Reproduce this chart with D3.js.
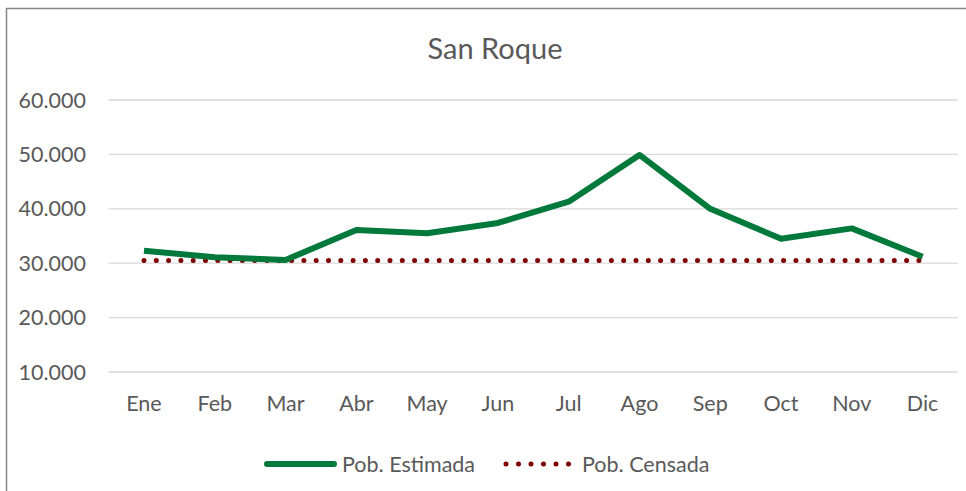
<!DOCTYPE html>
<html>
<head>
<meta charset="utf-8">
<script src="https://d3js.org/d3.v7.min.js"></script>
<style>
  body { margin: 0; background: #fff; }
  text { font-family: Lato, "Open Sans", sans-serif; fill: #595959; }
</style>
</head>
<body>
<svg id="chart" width="966" height="491"></svg>
<script>
// Data
const months = ["Ene", "Feb", "Mar", "Abr", "May", "Jun", "Jul", "Ago", "Sep", "Oct", "Nov", "Dic"];
const estimada = [32300, 31100, 30600, 36100, 35500, 37400, 41300, 49900, 40000, 34500, 36400, 31200];
const censada = [30500, 30500, 30500, 30500, 30500, 30500, 30500, 30500, 30500, 30500, 30500, 30500];
const yTicks = [10000, 20000, 30000, 40000, 50000, 60000];

const svg = d3.select("#chart");
const width = 966, height = 491;
const margin = { top: 100, right: 8, bottom: 119, left: 108.6 };
const labelSize = "21.5px";

// chart frame (only top + left edges show in the crop)
svg.append("path")
    .attr("d", `M6.5,${height} V8.5 H${width}`)
    .attr("fill", "none")
    .attr("stroke", "#868686")
    .attr("stroke-width", 1.5);

const x = d3.scaleBand()
    .domain(months)
    .range([margin.left, width - margin.right]);

const y = d3.scaleLinear()
    .domain([10000, 60000])
    .range([height - margin.bottom, margin.top]);

const fmt = v => d3.format(",")(v).replace(/,/g, ".");

// gridlines
svg.append("g")
    .selectAll("line")
    .data(yTicks)
    .join("line")
        .attr("x1", margin.left)
        .attr("x2", width - margin.right)
        .attr("y1", d => y(d))
        .attr("y2", d => y(d))
        .attr("stroke", "#d9d9d9")
        .attr("stroke-width", 1.3);

// y labels
svg.append("g")
    .selectAll("text")
    .data(yTicks)
    .join("text")
        .text(d => fmt(d))
        .attr("x", 86)
        .attr("y", d => y(d))
        .attr("text-anchor", "end")
        .attr("dy", "0.35em")
        .style("font-size", labelSize);

// x labels
svg.append("g")
    .selectAll("text")
    .data(months)
    .join("text")
        .text(d => d)
        .attr("x", d => x(d) + x.bandwidth() / 2)
        .attr("y", 411)
        .attr("text-anchor", "middle")
        .style("font-size", labelSize);

// title
svg.append("text")
    .text("San Roque")
    .attr("x", 495)
    .attr("y", 59)
    .attr("text-anchor", "middle")
    .style("font-size", "29px");

const line = d3.line()
    .x((d, i) => x(months[i]) + x.bandwidth() / 2)
    .y(d => y(d));

svg.append("path")
    .datum(censada)
    .attr("d", line)
    .attr("fill", "none")
    .attr("stroke", "#7f0000")
    .attr("stroke-width", 5)
    .attr("stroke-linecap", "round")
    .attr("stroke-dasharray", "0 12.3");

svg.append("path")
    .datum(estimada)
    .attr("d", line)
    .attr("fill", "none")
    .attr("stroke", "#00793a")
    .attr("stroke-width", 6)
    .attr("stroke-linejoin", "round");

// legend
const legend = svg.append("g");
legend.append("line")
    .attr("x1", 267).attr("x2", 334)
    .attr("y1", 464).attr("y2", 464)
    .attr("stroke", "#00793a")
    .attr("stroke-width", 6)
    .attr("stroke-linecap", "round");
legend.append("text")
    .text("Pob. Estimada")
    .attr("x", 342).attr("y", 464)
    .attr("dy", "0.35em")
    .style("font-size", labelSize);
legend.append("line")
    .attr("x1", 506).attr("x2", 570)
    .attr("y1", 464).attr("y2", 464)
    .attr("stroke", "#7f0000")
    .attr("stroke-width", 5)
    .attr("stroke-linecap", "round")
    .attr("stroke-dasharray", "0 12.5");
legend.append("text")
    .text("Pob. Censada")
    .attr("x", 582).attr("y", 464)
    .attr("dy", "0.35em")
    .style("font-size", labelSize);
</script>
</body>
</html>
